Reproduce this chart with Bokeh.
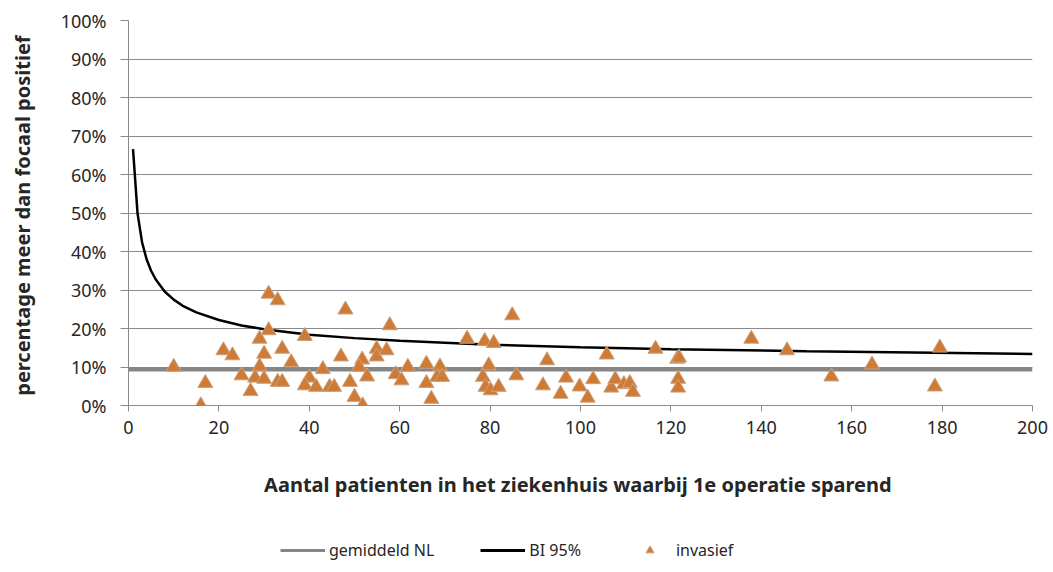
from bokeh.plotting import figure
from bokeh.layouts import column
from bokeh.models import (FixedTicker, NumeralTickFormatter, Legend, LegendItem,
                          ColumnDataSource, Range1d)
from bokeh.embed import file_html
from bokeh.resources import INLINE

# ---- data ----
# patients per hospital (x) and share "meer dan focaal positief" (y, fraction)
hosp_n = [10, 17, 16, 21, 23, 25, 27, 28, 29, 30, 29, 30, 31, 33, 31, 34, 33, 34, 36,
          39, 40, 39, 41.5, 43, 44.5, 45.5, 47, 48, 49, 50, 51.8, 51.7, 51, 52.8, 54.9,
          54.9, 57.1, 57.8, 59.1, 60.4, 61.8, 65.9, 65.9, 67, 68.9, 68.3, 69.4, 74.9,
          78.8, 80.8, 79.7, 78.4, 79, 80.1, 81.9, 84.9, 85.8, 92.6, 91.7, 95.6, 96.8,
          99.8, 101.6, 102.8, 105.8, 106.8, 107.7, 109.6, 110.9, 111.6, 116.6, 121.4,
          121.8, 121.6, 121.6, 137.8, 145.7, 155.5, 164.5, 179.5, 178.4]
pct_pos = [0.100, 0.058, 0.000, 0.143, 0.130, 0.078, 0.037, 0.072, 0.173, 0.134, 0.101,
           0.069, 0.290, 0.273, 0.195, 0.147, 0.061, 0.061, 0.112, 0.180, 0.072, 0.052,
           0.048, 0.094, 0.048, 0.048, 0.127, 0.249, 0.061, 0.022, 0.000, 0.119, 0.100,
           0.075, 0.147, 0.127, 0.143, 0.208, 0.081, 0.065, 0.100, 0.108, 0.058, 0.017,
           0.101, 0.074, 0.074, 0.173, 0.167, 0.162, 0.104, 0.074, 0.048, 0.039, 0.048,
           0.234, 0.078, 0.117, 0.052, 0.030, 0.072, 0.049, 0.020, 0.068, 0.132, 0.046,
           0.068, 0.055, 0.058, 0.035, 0.147, 0.121, 0.124, 0.069, 0.046, 0.173, 0.143,
           0.075, 0.106, 0.150, 0.049]

# national average (gemiddeld NL)
avg_x = [0, 200]
avg_y = [0.094, 0.094]

# upper 95% confidence limit (BI 95%)
bi_x = [1, 2, 3, 4, 5, 6, 8, 10, 12, 15, 20, 25, 30, 40, 50, 60, 80, 100, 120, 150, 200]
bi_y = [0.666, 0.499, 0.424, 0.380, 0.350, 0.328, 0.296, 0.275, 0.259, 0.242, 0.222,
        0.208, 0.198, 0.184, 0.175, 0.168, 0.158, 0.151, 0.146, 0.141, 0.134]

x_ticks = [0, 20, 40, 60, 80, 100, 120, 140, 160, 180, 200]
y_ticks = [0, 0.1, 0.2, 0.3, 0.4, 0.5, 0.6, 0.7, 0.8, 0.9, 1.0]

series_names = ["gemiddeld NL", "BI 95%", "invasief"]

FONT = "Noto Sans"
TXT = "#262626"
AVG_COLOR = "#868686"
BI_COLOR = "black"
PT_FILL = "#cf7a35"
PT_LINE = "#c9a27f"

MAIN_H = 530
LEG_H = 572 - MAIN_H

p = figure(width=1053, height=MAIN_H, x_range=(0, 200), y_range=(0, 1),
           output_backend="svg", toolbar_location=None,
           min_border_left=128, min_border_right=21, min_border_top=20,
           min_border_bottom=MAIN_H - 405)
p.outline_line_color = None
p.background_fill_color = "white"
p.border_fill_color = "white"

# grid
p.xgrid.grid_line_color = None
p.ygrid.ticker = FixedTicker(ticks=y_ticks)
p.ygrid.grid_line_color = "#8a8a8a"
p.ygrid.grid_line_width = 1

# axes
for ax in (p.xaxis[0], p.yaxis[0]):
    ax.axis_line_color = "#8a8a8a"
    ax.major_tick_line_color = "#8a8a8a"
    ax.minor_tick_line_color = None
    ax.major_tick_in = 0
    ax.major_label_text_font = FONT
    ax.major_label_text_font_size = "18px"
    ax.major_label_text_color = TXT
    ax.axis_label_text_font = FONT
    ax.axis_label_text_font_size = "20px"
    ax.axis_label_text_font_style = "bold"
    ax.axis_label_text_color = TXT

p.xaxis.ticker = FixedTicker(ticks=x_ticks)
p.xaxis.major_tick_out = 6
p.xaxis.major_label_standoff = 9
p.xaxis.axis_label = "Aantal patienten in het ziekenhuis  waarbij 1e operatie sparend"
p.xaxis.axis_label_standoff = 34

p.yaxis.ticker = FixedTicker(ticks=y_ticks)
p.yaxis.formatter = NumeralTickFormatter(format="0%")
p.yaxis.major_tick_out = 8
p.yaxis.major_label_standoff = 14
p.yaxis.axis_label = "percentage meer dan focaal  positief"
p.yaxis.axis_label_standoff = 22

# glyphs
p.line(avg_x, avg_y, line_color=AVG_COLOR, line_width=4.5)
p.line(bi_x, bi_y, line_color=BI_COLOR, line_width=2.5)
src = ColumnDataSource(dict(x=hosp_n, y=pct_pos))
p.scatter("x", "y", source=src, marker="triangle", size=15,
          fill_color=PT_FILL, line_color=PT_LINE, line_width=1)

# ---- legend strip below the chart ----
# The legend figure shows the same series, but its y range lies outside the
# data so that only the legend itself is visible.
lg = figure(width=1053, height=LEG_H, x_range=Range1d(0, 200),
            y_range=Range1d(-2, -1),
            output_backend="svg", toolbar_location=None,
            x_axis_location=None, y_axis_location=None,
            min_border_left=128, min_border_right=21, min_border_top=0,
            min_border_bottom=0)
lg.outline_line_color = None
lg.xgrid.grid_line_color = None
lg.ygrid.grid_line_color = None
l_avg = lg.line(avg_x, avg_y, line_color=AVG_COLOR, line_width=3)
l_bi = lg.line(bi_x, bi_y, line_color=BI_COLOR, line_width=3)
l_pts = lg.scatter(hosp_n, pct_pos, marker="triangle", size=12,
                   fill_color=PT_FILL, line_color=PT_LINE, line_width=1)

legend = Legend(items=[LegendItem(label=series_names[0], renderers=[l_avg]),
                       LegendItem(label=series_names[1], renderers=[l_bi]),
                       LegendItem(label=series_names[2], renderers=[l_pts])],
                orientation="horizontal", location=(152, 11))
legend.label_text_font = FONT
legend.label_text_font_size = "16px"
legend.label_text_color = TXT
legend.border_line_color = None
legend.background_fill_alpha = 0
legend.glyph_width = 45
legend.label_standoff = 4
legend.spacing = 46
legend.margin = 0
legend.padding = 5
lg.add_layout(legend, "center")

layout = column(p, lg, spacing=0)
open("out.html", "w").write(file_html(layout, INLINE))
